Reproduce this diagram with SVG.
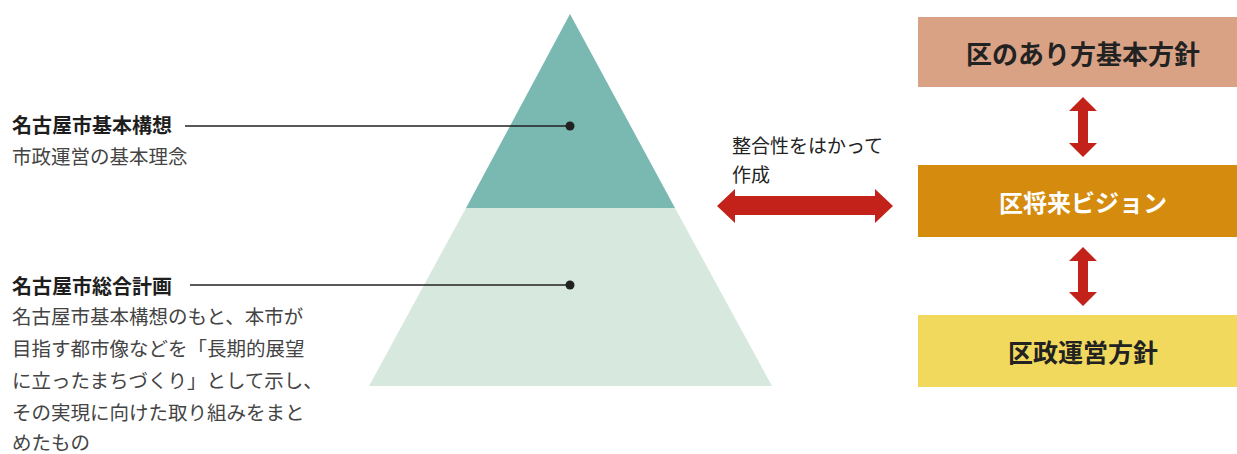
<svg xmlns="http://www.w3.org/2000/svg" width="1237" height="454" viewBox="0 0 1237 454">
<style>
text{font-family:"Noto Sans CJK JP","Noto Sans",sans-serif}
.h{font-size:20px;font-weight:bold;fill:#1e1e1e}
.b{font-size:19.5px;fill:#444}
.box{font-weight:bold;text-anchor:middle;dominant-baseline:central}
.arr{fill:#C3221A}
.lead{stroke:#222;stroke-width:1.6;fill:none}
</style>
<rect width="1237" height="454" fill="#fff"/>
<g id="pyramid">
<polygon points="570,14 675,208 466,208" fill="#7AB8B2"/>
<polygon points="466,208 675,208 772,386 369,386" fill="#D7E8DE"/>
</g>
<g id="node-kihon-koso">
<text class="h" x="12" y="133">名古屋市基本構想</text>
<text class="b" x="12" y="164">市政運営の基本理念</text>
</g>
<g id="node-sogo-keikaku">
<text class="h" x="12" y="294">名古屋市総合計画</text>
<text class="b" x="12" y="324">名古屋市基本構想のもと、本市が</text>
<text class="b" x="12" y="356">目指す都市像などを「長期的展望</text>
<text class="b" x="12" y="388">に立ったまちづくり」として示し、</text>
<text class="b" x="12" y="420">その実現に向けた取り組みをまと</text>
<text class="b" x="12" y="450">めたもの</text>
</g>
<g id="node-arikata">
<rect x="918" y="17" width="319" height="70" fill="#D9A285"/>
<text class="box" x="1083" y="52" font-size="26" fill="#222">区のあり方基本方針</text>
</g>
<g id="node-vision">
<rect x="918" y="165" width="319" height="72" fill="#D48B0E"/>
<text class="box" x="1083" y="201" font-size="24" fill="#fff">区将来ビジョン</text>
</g>
<g id="node-gyosei">
<rect x="918" y="315" width="319" height="72" fill="#F0D95C"/>
<text class="box" x="1083" y="351" font-size="25" fill="#222">区政運営方針</text>
</g>
<g id="label-seigo">
<text x="732" y="153" font-size="19" fill="#222">整合性をはかって</text>
<text x="732" y="182" font-size="19" fill="#222">作成</text>
</g>
<g id="connectors">
<line class="lead" x1="185" y1="126" x2="570" y2="126"/>
<circle cx="570" cy="126" r="4.5" fill="#222"/>
<line class="lead" x1="190" y1="285" x2="570" y2="285"/>
<circle cx="570" cy="285" r="4.5" fill="#222"/>
<polygon class="arr" points="717,206 735,189 735,196 875,196 875,189 893,206 875,223 875,215 735,215 735,223"/>
<polygon class="arr" points="1083,97 1097,111 1088,111 1088,143 1097,143 1083,157 1069,143 1078,143 1078,111 1069,111"/>
<polygon class="arr" points="1083,247 1097,261 1088,261 1088,292 1097,292 1083,306 1069,292 1078,292 1078,261 1069,261"/>
</g>
</svg>
